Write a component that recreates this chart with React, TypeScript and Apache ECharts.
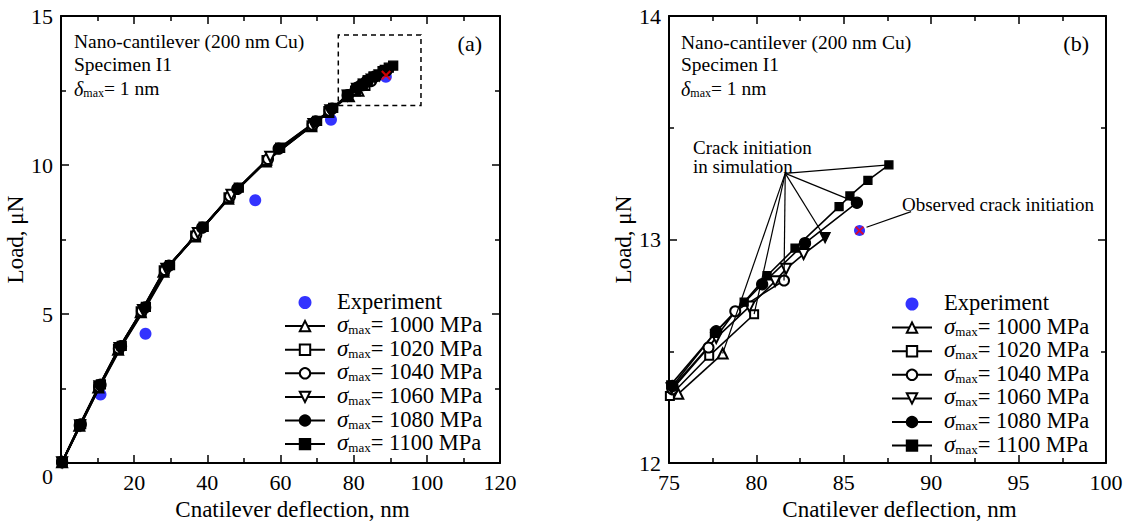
import React, { useEffect, useRef } from "react";
import * as echarts from "echarts";

const FONT = "'Liberation Serif', 'Times New Roman', serif";

// ---------- Panel (a): full curve ----------
const expA = [[10.8, 2.3], [23.1, 4.34], [53.1, 8.82], [73.8, 11.52], [88.8, 12.96]];
const crackA = [[88.85, 13.01]];
const a1000 = [[0.3, 0.03], [5.0, 1.25], [10.2, 2.54], [15.6, 3.8], [21.8, 5.06], [28.0, 6.42], [36.6, 7.6], [45.7, 8.87], [56.0, 10.12], [68.4, 11.3], [73.0, 11.78], [78.7, 12.31], [81.3, 12.49]];
const a1020 = [[0.3, 0.03], [5.1, 1.26], [10.3, 2.55], [15.7, 3.82], [21.9, 5.08], [28.2, 6.45], [36.8, 7.62], [45.9, 8.9], [56.3, 10.15], [68.6, 11.32], [73.2, 11.8], [78.25, 12.3], [80.5, 12.48], [83.1, 12.666]];
const a1040 = [[0.3, 0.03], [5.1, 1.26], [10.4, 2.56], [15.8, 3.84], [22.1, 5.1], [28.4, 6.48], [37.0, 7.66], [46.2, 8.95], [56.6, 10.2], [68.8, 11.35], [73.4, 11.82], [78.4, 12.33], [80.5, 12.517], [82.0, 12.679], [84.8, 12.817]];
const a1060 = [[0.3, 0.03], [5.2, 1.27], [10.5, 2.58], [16.0, 3.86], [22.4, 5.14], [28.8, 6.52], [37.4, 7.72], [46.6, 9.0], [57.2, 10.28], [69.0, 11.38], [73.6, 11.84], [78.35, 12.335], [80.9, 12.56], [82.8, 12.7], [84.3, 12.814], [84.9, 12.869], [85.9, 12.935], [87.1, 13.008]];
const a1080 = [[0.3, 0.04], [5.4, 1.3], [10.8, 2.63], [16.4, 3.92], [23.0, 5.22], [29.5, 6.62], [38.6, 7.9], [48.2, 9.2], [59.5, 10.55], [69.6, 11.46], [74.1, 11.89], [78.4, 12.345], [80.9, 12.59], [83.5, 12.8], [86.0, 12.984], [88.95, 13.165]];
const a1100 = [[0.4, 0.04], [5.5, 1.31], [10.9, 2.64], [16.6, 3.93], [23.2, 5.24], [29.8, 6.64], [39.0, 7.93], [48.6, 9.24], [59.9, 10.58], [70.0, 11.48], [74.4, 11.92], [78.3, 12.35], [80.8, 12.58], [82.5, 12.72], [83.8, 12.838], [85.4, 12.962], [87.9, 13.147], [88.5, 13.195], [89.6, 13.265], [90.8, 13.334]];
const zoomBoxA = [[75.8, 12.0], [98.4, 14.36]];

// ---------- Panel (b): enlarged end region ----------
const expB = [[85.9, 13.04]];
const crackB = [[85.9, 13.04]];
const b1000 = [[75.53, 12.31], [78.07, 12.49]];
const b1020 = [[75.05, 12.3], [77.3, 12.48], [79.87, 12.666]];
const b1040 = [[75.19, 12.33], [77.26, 12.517], [78.79, 12.679], [81.58, 12.817]];
const b1060 = [[75.15, 12.335], [77.7, 12.56], [79.6, 12.7], [81.07, 12.814], [81.7, 12.869], [82.7, 12.935], [83.93, 13.008]];
const b1080 = [[75.2, 12.345], [77.7, 12.59], [80.33, 12.8], [82.78, 12.984], [85.75, 13.165]];
const b1100 = [[75.1, 12.35], [77.6, 12.58], [79.3, 12.72], [80.61, 12.838], [82.21, 12.962], [84.73, 13.147], [85.35, 13.195], [86.38, 13.265], [87.58, 13.334]];
const crackLabelAnchor = [81.65, 13.296];
const observedLine = [[88.85, 13.125], [86.3, 13.055]];

// ---------- labels ----------
const simNames = ["1000", "1020", "1040", "1060", "1080", "1100"];
const expName = "Experiment";
const xTicksA = { min: 0, max: 120, interval: 20 };
const yTicksA = { min: 0, max: 15, interval: 5 };
const xTicksB = { min: 75, max: 100, interval: 5 };
const yTicksB = { min: 12, max: 14, interval: 1 };

const simA = [a1000, a1020, a1040, a1060, a1080, a1100];
const simB = [b1000, b1020, b1040, b1060, b1080, b1100];
const symbols = ["emptyTriangle", "emptyRect", "emptyCircle", "emptyTriangle", "circle", "rect"];
const rotates = [0, 0, 0, 180, 0, 0];
const sizesA = [10, 9, 10, 10, 11, 9];
const sizesB = [10, 8, 10, 10, 11, 8];
const crossPath = "path://M0,1.5L1.5,0L5,3.5L8.5,0L10,1.5L6.5,5L10,8.5L8.5,10L5,6.5L1.5,10L0,8.5L3.5,5Z";

const gridA = { left: 61, top: 16, width: 439, height: 452 };
const gridB = { left: 669, top: 16, width: 437, height: 457 };

function axis(kind: "x" | "y", gridIndex: number, ticks: any, main: boolean, extra: any = {}) {
  return {
    type: "value",
    gridIndex,
    position: kind === "x" ? (main ? "bottom" : "top") : main ? "left" : "right",
    min: ticks.min,
    max: ticks.max,
    interval: ticks.interval,
    axisLine: { show: true, onZero: false, lineStyle: { color: "#000", width: 2 } },
    axisTick: { show: true, inside: true, length: 8, lineStyle: { color: "#000", width: 1.5 } },
    minorTick: { show: true, splitNumber: 2, length: 5, lineStyle: { color: "#000", width: 1.5 } },
    splitLine: { show: false },
    axisLabel: main
      ? { show: true, fontSize: 22, fontFamily: FONT, color: "#000", margin: 8 }
      : { show: false },
    ...extra,
  };
}

const legendRich = {
  e: { fontSize: 22.5, fontFamily: FONT, color: "#000", padding: [0, 0, 0, 7], lineHeight: 20, verticalAlign: "bottom" },
  g: { fontSize: 23, fontFamily: FONT, fontStyle: "italic", color: "#000", padding: [0, 0, 0, 7], lineHeight: 20, verticalAlign: "bottom" },
  m: { fontSize: 13, fontFamily: FONT, color: "#000", lineHeight: 8, verticalAlign: "bottom" },
  t: { fontSize: 22.5, fontFamily: FONT, color: "#000", lineHeight: 20, verticalAlign: "bottom" },
};

function legend(left: number, top: number) {
  return {
    orient: "vertical",
    left,
    top,
    padding: 0,
    data: [expName, ...simNames],
    itemWidth: 40,
    itemHeight: 13,
    itemGap: 0.6,
    selectedMode: false,
    formatter: (name: string) =>
      name === expName ? "{e|Experiment}" : `{g|σ}{m|max}{t|= ${name} MPa}`,
    textStyle: { fontFamily: FONT, fontSize: 22.5, color: "#000", rich: legendRich },
  };
}

const textRich = {
  d: { fontSize: 20, fontFamily: FONT, fontStyle: "italic", fill: "#000", lineHeight: 20, verticalAlign: "bottom" },
  m: { fontSize: 12, fontFamily: FONT, fill: "#000", lineHeight: 8, verticalAlign: "bottom" },
  t: { fontSize: 19.5, fontFamily: FONT, fill: "#000", lineHeight: 20, verticalAlign: "bottom" },
};

function txt(text: string, x: number, y: number, size = 19.5, align = "left") {
  return {
    type: "text",
    silent: true,
    style: { text, x, y, fontSize: size, fontFamily: FONT, fill: "#000", align, verticalAlign: "middle" },
  };
}
function deltaTxt(x: number, y: number) {
  return {
    type: "text",
    silent: true,
    style: { text: "{d|δ}{m|max}{t|= 1 nm}", x, y, rich: textRich, verticalAlign: "middle" },
  };
}

function simSeries(data: number[][][], xi: number, yi: number, sizes: number[], lw: number, markLast: boolean) {
  return simNames.map((name, i) => ({
    name,
    type: "line",
    xAxisIndex: xi,
    yAxisIndex: yi,
    data: data[i].map((p, k) =>
      markLast && i === 3 && k === data[i].length - 1 ? { value: p, symbol: "triangle" } : p
    ),
    symbol: symbols[i],
    symbolRotate: rotates[i],
    symbolSize: sizes[i],
    lineStyle: { color: "#000", width: lw },
    itemStyle: { color: "#000", borderColor: "#000", borderWidth: 1.3 },
    emphasis: { disabled: true },
    z: 3,
  }));
}

const option: any = {
  animation: false,
  backgroundColor: "#fff",
  textStyle: { fontFamily: FONT },
  grid: [gridA, gridB],
  xAxis: [
    axis("x", 0, xTicksA, true, {
      axisLabel: { show: true, fontSize: 22, fontFamily: FONT, color: "#000", margin: 8, showMinLabel: false },
      name: "Cnatilever deflection, nm",
      nameLocation: "middle",
      nameGap: 28,
      nameTextStyle: { fontSize: 23, fontFamily: FONT, color: "#000", padding: [0, 0, 0, 24] },
    }),
    axis("x", 0, xTicksA, false),
    axis("x", 1, xTicksB, true, {
      name: "Cnatilever deflection, nm",
      nameLocation: "middle",
      nameGap: 30,
      nameTextStyle: { fontSize: 23, fontFamily: FONT, color: "#000", padding: [0, 0, 0, 24] },
    }),
    axis("x", 1, xTicksB, false),
  ],
  yAxis: [
    axis("y", 0, yTicksA, true, {
      axisLabel: {
        show: true,
        fontSize: 22,
        fontFamily: FONT,
        color: "#000",
        margin: 8,
        formatter: (v: number) => (v === 0 ? "{z|0}" : String(v)),
        rich: { z: { fontSize: 22, fontFamily: FONT, color: "#000", padding: [26, 0, 0, 0] } },
      },
      name: "Load, μN",
      nameLocation: "middle",
      nameRotate: 90,
      nameGap: 25,
      nameTextStyle: { fontSize: 23, fontFamily: FONT, color: "#000" },
    }),
    axis("y", 0, yTicksA, false),
    axis("y", 1, yTicksB, true, {
      name: "Load, μN",
      nameLocation: "middle",
      nameRotate: 90,
      nameGap: 31,
      nameTextStyle: { fontSize: 23, fontFamily: FONT, color: "#000" },
    }),
    axis("y", 1, yTicksB, false),
  ],
  legend: [legend(284, 289.5), legend(891, 291)],
  graphic: [
    txt("Nano-cantilever (200 nm Cu)", 74, 41.7),
    txt("Specimen I1", 74, 64),
    deltaTxt(74, 88.5),
    txt("(a)", 482, 43.5, 22, "right"),
    txt("Nano-cantilever (200 nm Cu)", 681, 42.3),
    txt("Specimen I1", 681, 64.3),
    deltaTxt(681, 88.6),
    txt("(b)", 1089, 43.5, 22, "right"),
    txt("Crack initiation", 693, 147, 19),
    txt("in simulation", 693, 166.4, 19),
    txt("Observed crack initiation", 902, 204.7, 19),
  ],
  series: [
    {
      name: expName,
      type: "scatter",
      xAxisIndex: 0,
      yAxisIndex: 0,
      data: expA,
      symbol: "circle",
      symbolSize: 12,
      itemStyle: { color: "#0000ff" },
      emphasis: { disabled: true },
      z: 2,
      markArea: {
        silent: true,
        itemStyle: { color: "rgba(0,0,0,0)", borderColor: "#000", borderWidth: 1.5, borderType: [5, 4] },
        data: [[{ coord: zoomBoxA[0] }, { coord: zoomBoxA[1] }]],
      },
    },
    ...simSeries(simA, 0, 0, sizesA, 2, false),
    {
      name: "crackA",
      type: "scatter",
      xAxisIndex: 0,
      yAxisIndex: 0,
      data: crackA,
      symbol: crossPath,
      symbolSize: 10,
      itemStyle: { color: "#ff0000" },
      z: 5,
    },
    {
      name: expName,
      type: "scatter",
      xAxisIndex: 2,
      yAxisIndex: 2,
      data: expB,
      symbol: "circle",
      symbolSize: 11,
      itemStyle: { color: "#0000ff" },
      emphasis: { disabled: true },
      z: 2,
      markLine: {
        silent: true,
        symbol: ["none", "none"],
        label: { show: false },
        lineStyle: { color: "#000", width: 1.2, type: "solid" },
        data: [
          ...simB.map((s) => [{ coord: crackLabelAnchor }, { coord: s[s.length - 1] }]),
          [{ coord: observedLine[0] }, { coord: observedLine[1] }],
        ],
      },
    },
    ...simSeries(simB, 2, 2, sizesB, 1.6, true),
    {
      name: "crackB",
      type: "scatter",
      xAxisIndex: 2,
      yAxisIndex: 2,
      data: crackB,
      symbol: crossPath,
      symbolSize: 9,
      itemStyle: { color: "#ff0000" },
      z: 5,
    },
  ],
};

export default function App() {
  const ref = useRef<HTMLDivElement>(null);
  useEffect(() => {
    document.body.style.margin = "0";
    const chart = echarts.init(ref.current!, undefined, { renderer: "svg" });
    chart.setOption(option);
    return () => chart.dispose();
  }, []);
  return <div ref={ref} style={{ width: 1148, height: 526 }} />;
}
